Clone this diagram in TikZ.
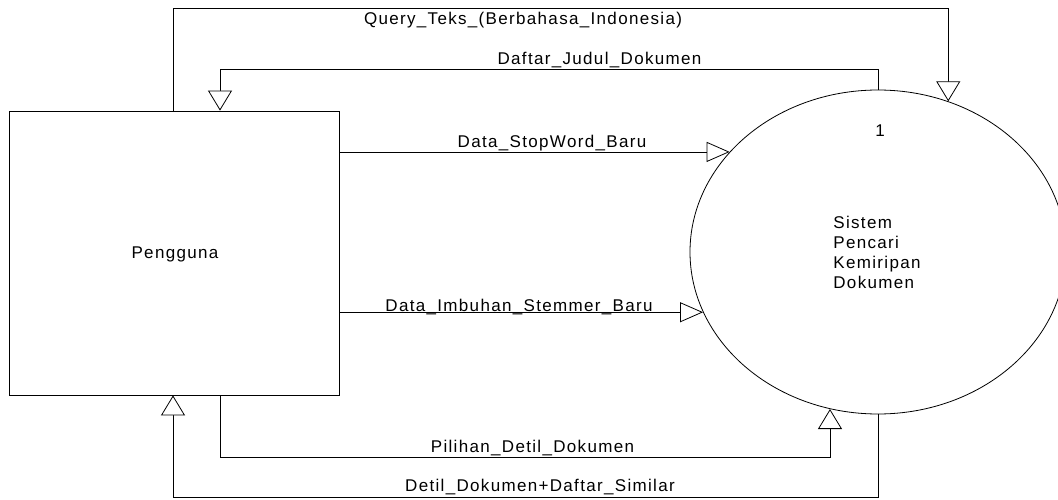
\documentclass[tikz,border=0pt]{standalone}
\usepackage{fontspec}
\setmainfont{Liberation Sans}[LetterSpace=7.8]
\usetikzlibrary{arrows.meta,shapes.geometric}
\begin{document}
\begin{tikzpicture}[x=1pt,y=1pt,line width=0.8pt,
  every node/.style={font=\fontsize{17}{20}\selectfont,inner sep=0pt},
  harr/.style={-{Triangle[length=23pt,width=20pt,fill=white]}},
  varr/.style={-{Triangle[length=20pt,width=24pt,fill=white]}},
  lbl/.style={anchor=base}]
\useasboundingbox (0,0) rectangle (1058,499);

% external entity and process
\node[draw,minimum width=330pt,minimum height=284pt] (user) at (174,246) {};
\node[draw,ellipse,minimum width=376pt,minimum height=324pt] (proc) at (878,247) {};

\node[lbl] (userlbl) at (175,241) {Pengguna};
\node[lbl] (num) at (880,362) {1};
\node[anchor=north west,align=left] (name) at (833,283.3)
  {Sistem\\Pencari\\Kemiripan\\Dokumen};

% data flows
\draw[varr] ([xshift=-1pt]user.north) -- ++(0,102) -| (proc.65);
\draw[varr] (proc.north) -- ++(0,20) -| ([xshift=46pt]user.north);
\draw[harr] (user.east |- proc.146) -- (proc.146);
\draw[harr] (user.east |- proc.199.6) -- (proc.199.6);
\draw[varr] ([xshift=46pt]user.south) -- ++(0,-62) -| (proc.253.3);
\draw[varr] (proc.south) -- ++(0,-83) -| ([xshift=-1pt]user.south);

% flow labels
\node[lbl] (fquery) at (523,474) {Query\_Teks\_(Berbahasa\_Indonesia)};
\node[lbl] (fjudul) at (599.5,434) {Daftar\_Judul\_Dokumen};
\node[lbl] (fstop) at (552,351) {Data\_StopWord\_Baru};
\node[lbl] (fimbuh) at (519,188) {Data\_Imbuhan\_Stemmer\_Baru};
\node[lbl] (fpilih) at (532.5,47) {Pilihan\_Detil\_Dokumen};
\node[lbl] (fdetil) at (540,8) {Detil\_Dokumen+Daftar\_Similar};
\end{tikzpicture}
\end{document}
